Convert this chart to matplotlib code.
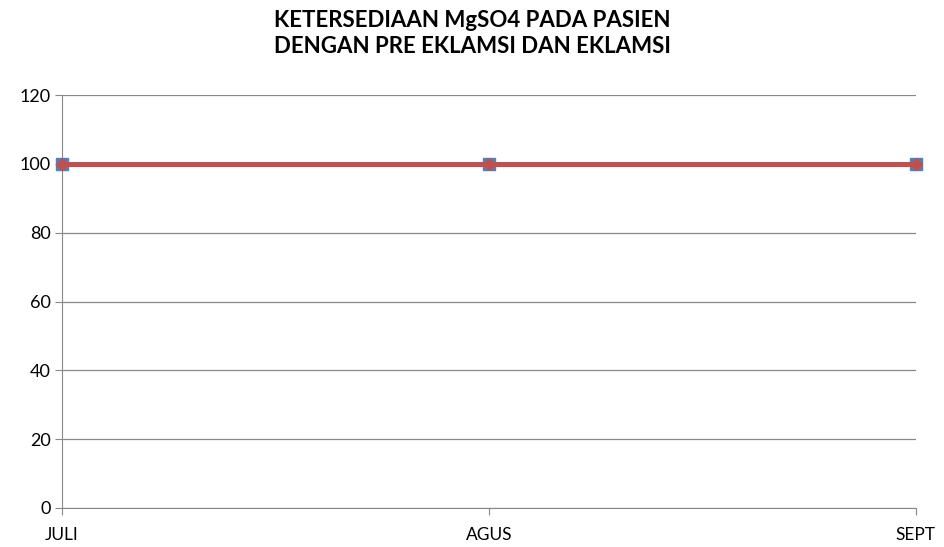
import numpy as np
import matplotlib.pyplot as plt

plt.rcParams['font.family'] = ['Lato', 'DejaVu Sans']

bulan = ['JULI', 'AGUS', 'SEPT']
seri_1 = [100, 100, 100]
seri_2 = [100, 100, 100]

fig = plt.figure(figsize=(9.44, 5.47), dpi=100)
ax = fig.add_axes([0.0657, 0.0713, 0.9043, 0.755])

x = np.arange(len(bulan))
ax.plot(x, seri_1, color='#4F81BD', linewidth=3.5, marker='s', markersize=8,
        markerfacecolor='#4F81BD', markeredgecolor='#4F81BD', zorder=3, clip_on=False)
ax.plot(x, seri_2, color='#C0504D', linewidth=3.5, marker='D', markersize=6,
        markerfacecolor='#C0504D', markeredgecolor='#C0504D', zorder=4, clip_on=False)

ax.set_xlim(0, len(bulan) - 1)
ax.set_ylim(0, 120)
ax.set_yticks(range(0, 121, 20))
ax.set_xticks(x)
ax.set_xticklabels(bulan)

ax.grid(axis='y', color='#888888', linewidth=0.9)
ax.set_axisbelow(True)
for s in ['top', 'right']:
    ax.spines[s].set_visible(False)
ax.spines['left'].set_color('#888888')
ax.spines['bottom'].set_color('#888888')
ax.tick_params(axis='y', length=5, color='#888888', labelsize=13, pad=3)
ax.tick_params(axis='x', length=5, color='#888888', labelsize=12.5, pad=9)

fig.suptitle('KETERSEDIAAN MgSO4 PADA PASIEN\nDENGAN PRE EKLAMSI DAN EKLAMSI',
             x=0.5, y=0.982, fontsize=16, fontweight='bold', linespacing=1.3)

fig.savefig('out.png', dpi=100)
